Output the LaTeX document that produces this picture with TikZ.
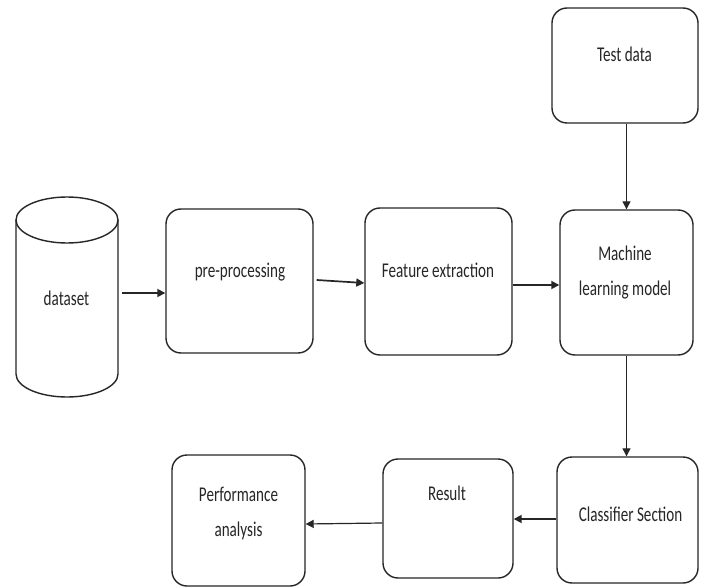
\documentclass[tikz,border=0pt]{standalone}
\usepackage{fontspec}
\setmainfont{Carlito}
\usepackage{graphicx}
\usetikzlibrary{arrows.meta,calc}
\newcommand{\lbl}[1]{\scalebox{0.72}[1]{\begin{tabular}{@{}c@{}}#1\end{tabular}}}
\begin{document}
\begin{tikzpicture}[x=1pt,y=-1pt,
  box/.style={draw=black!85,line width=1.4pt,rounded corners=15pt,inner sep=0pt},
  txt/.style={inner sep=0pt,font=\fontsize{21}{34.5}\selectfont,text=black!85},
  conn/.style={draw=black!85,line width=1.7pt,-{Triangle[length=8pt,width=8pt]}},
  connthin/.style={draw=black!85,line width=1.2pt,-{Triangle[length=8pt,width=8pt]}}]
\useasboundingbox (0,0) rectangle (712,588);
\fill[white] (0,0) rectangle (712,588);
% cylinder
\draw[draw=black!85,line width=1.4pt] (67,220) ellipse [x radius=51,y radius=23];
\draw[draw=black!85,line width=1.4pt] (16,220) -- (16,374) arc[start angle=180,end angle=0,x radius=51,y radius=23] -- (118,220);
\node[inner sep=0pt,minimum width=102pt,minimum height=200pt] (ds) at (67,297) {};
% boxes
\node[box,minimum width=147pt,minimum height=144pt] (pre) at (239.5,281) {};
\node[box,minimum width=147pt,minimum height=147pt] (feat) at (438.5,281.5) {};
\node[box,minimum width=133pt,minimum height=145pt] (ml) at (626.5,282.5) {};
\node[box,minimum width=146pt,minimum height=115pt] (test) at (625,65.5) {};
\node[box,minimum width=141pt,minimum height=126pt] (cls) at (627.5,520) {};
\node[box,minimum width=130pt,minimum height=119pt] (res) at (448,518.5) {};
\node[box,minimum width=133pt,minimum height=131pt] (perf) at (238.5,520.5) {};
% labels
\node[txt] (tds) at (66.5,299) {\lbl{dataset}};
\node[txt] (tpre) at (240,271) {\lbl{pre-processing}};
\node[txt] (tfeat) at (438,271) {\lbl{Feature extraction}};
\node[txt] (tml) at (625,271) {\lbl{Machine\\learning model}};
\node[txt] (ttest) at (624.5,55) {\lbl{Test data}};
\node[txt] (tcls) at (630.5,515) {\lbl{Classifier Section}};
\node[txt] (tres) at (447,494) {\lbl{Result}};
\node[txt] (tperf) at (238.5,512) {\lbl{Performance\\analysis}};
% connectors
\draw[conn] ($(ds.east)+(4,-4)$) -- ($(pre.west)+(0,12)$);
\draw[conn] ($(pre.east)+(3,-1)$) -- ($(feat.west)+(0,1.5)$);
\draw[conn] ($(feat.east)+(0,3.5)$) -- ($(ml.west)+(0,2.5)$);
\draw[connthin] (test.south -| ml.north) -- (ml.north);
\draw[connthin] (ml.south) -- (ml.south |- cls.north);
\draw[conn] ($(cls.west)+(0,-1)$) -- ($(res.east)+(0,0.5)$);
\draw[connthin] ($(res.west)+(0,4.5)$) -- ($(perf.east)+(0,3.5)$);
\end{tikzpicture}
\end{document}
